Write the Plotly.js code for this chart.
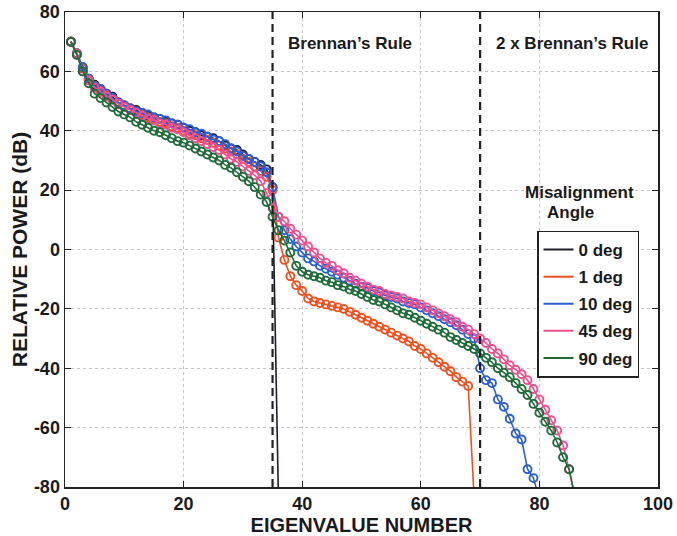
<!DOCTYPE html>
<html>
<head>
<meta charset="utf-8">
<script src="https://cdn.plot.ly/plotly-3.0.1.min.js"></script>
<style>html,body{margin:0;padding:0;background:#fff;}#chart{width:677px;height:536px;}</style>
</head>
<body>
<div id="chart"></div>
<script>
// Eigenvalue numbers (x positions)
const eigenNumber = [1,2,3,4,5,6,7,8,9,10,11,12,13,14,15,16,17,18,19,20,21,22,23,24,25,26,27,28,29,30,
  31,32,33,34,35,36,37,38,39,40,41,42,43,44,45,46,47,48,49,50,51,52,53,54,55,56,57,58,59,60,
  61,62,63,64,65,66,67,68,69,70,71,72,73,74,75,76,77,78,79,80,81,82,83,84,85,86];

const seriesNames = ['0 deg', '1 deg', '10 deg', '45 deg', '90 deg'];

// Relative power (dB) for each misalignment angle
const power0deg = [70, 66, 61, 57.5, 55.5, 54, 52.5, 51.5, 49.5, 48.5, 47.5, 47, 46, 45, 44.5, 44, 43, 42.5, 42, 41,
  40, 39.5, 38.5, 38, 37.5, 36.5, 35, 34, 33.5, 32, 30.5, 29.5, 28.5, 27, 21, -85];

const power1deg = [70, 66, 61, 57, 55, 53.5, 52, 50.5, 49.5, 48.5, 47.5, 46.5, 45.5, 44.5, 44, 43, 42.5, 41.5, 41, 40,
  39, 38.5, 37.5, 37, 36, 35, 34, 33, 32, 30.5, 29.5, 28, 26.5, 24.5, 20,
  4, -3.5, -9, -12, -14, -16.5, -17.5, -18, -18.5, -19, -19.5, -20, -21, -22, -23,
  -24, -25, -26, -27, -28, -29, -30, -31, -32.5, -33.5, -35, -36.5, -38, -39.5, -41,
  -43, -44.5, -46, -84];

const power10deg = [70, 66, 61.5, 57.5, 55, 54, 52.5, 51, 49.5, 48.5, 47.5, 46.5, 46, 45.5, 44.5, 44, 43.5, 42.5, 42, 41,
  40.5, 39.5, 39, 38, 37, 36.5, 35.5, 34, 33, 31.5, 30.5, 29.5, 28, 26, 21,
  11, 6.5, 3.5, 1, -1, -3, -4, -5.5, -6.5, -7.5, -8.5, -9.5, -10.5, -11.5, -12.5,
  -13, -14, -14.5, -15.5, -16, -16.5, -17.5, -18, -18.5, -19.5, -20.5, -21.5, -22.5, -23.5, -24.5,
  -25.5, -27, -28.5, -30, -40, -44, -45, -50.5, -53, -57, -62, -64, -74, -77, -84];

const power45deg = [70, 66, 60, 57, 54.5, 53, 51.5, 50.5, 49, 48, 47, 46, 45, 44, 43.5, 42.5, 42, 41, 40.5, 39.5,
  38.5, 37.5, 36.5, 35.5, 34.5, 33.5, 32, 30.5, 29.5, 28, 26.5, 25, 23, 19, 14,
  11, 9.5, 7, 5, 3, 1, -1, -3, -4.5, -5.5, -7, -8, -9.5, -10.5, -11.5,
  -12.5, -13.5, -14, -15, -15.5, -16, -16.5, -17.5, -18, -18.5, -19.5, -20.5, -21.5, -22.5, -23.5,
  -24.5, -26, -27, -28.5, -30, -31.5, -33.5, -35, -37, -39, -40.5, -42, -44, -47, -50.5,
  -54, -57.5, -61, -66, -74, -84];

const power90deg = [70, 65.5, 60, 56, 52.5, 51, 49.5, 48, 46.5, 45.5, 44.5, 43, 42, 41, 40, 39.5, 38.5, 37.5, 36.5, 36,
  35, 34, 33, 32, 31, 30, 28.5, 27.5, 26, 24.5, 23, 21, 18.5, 16, 11,
  6.5, 3, -1, -5.5, -7.5, -8.5, -9, -9.5, -10.5, -11, -12, -12.5, -13.5, -14, -15,
  -16, -17, -17.5, -18.5, -19.5, -20.5, -21.5, -22, -23, -24, -25, -26, -27, -28, -29.5,
  -30.5, -31.5, -32.5, -33.5, -35, -36.5, -38, -40, -41.5, -43, -45, -47, -49, -52, -55,
  -58, -61, -65, -70, -74, -83];

const seriesValues = [power0deg, power1deg, power10deg, power45deg, power90deg];
const seriesColors = ['#1c1c2e', '#f2501e', '#2a5fd4', '#ee4f8e', '#1f6b3a'];

const xTicks = [0, 20, 40, 60, 80, 100];
const yTicks = [-80, -60, -40, -20, 0, 20, 40, 60, 80];
const ruleLines = [35, 70];

const FONT = 'Liberation Sans, Arial, Helvetica, sans-serif';
const INK = '#1a1a1a';

const traces = [];
seriesValues.forEach((vals, i) => {
  traces.push({
    x: eigenNumber.slice(0, vals.length),
    y: vals,
    type: 'scatter',
    mode: 'lines+markers',
    line: {color: seriesColors[i], width: 1.6},
    marker: {symbol: 'circle-open', size: 8, color: seriesColors[i], line: {width: 1.9, color: seriesColors[i]}},
    showlegend: false,
    hoverinfo: 'skip'
  });
});
// legend entries (lines only)
seriesNames.forEach((name, i) => {
  traces.push({
    x: [null], y: [null], type: 'scatter', mode: 'lines', name: name,
    legendgroup: 'g' + i,
    line: {color: seriesColors[i], width: 2}
  });
});

const shapes = ruleLines.map(v => ({
  type: 'line', xref: 'x', yref: 'paper', x0: v, x1: v, y0: 0, y1: 1,
  line: {color: '#222', width: 2.2, dash: '8px,5px'}
}));

const layout = {
  width: 677, height: 536,
  margin: {l: 65, r: 19, t: 12, b: 49},
  paper_bgcolor: '#fff', plot_bgcolor: '#fff',
  font: {family: FONT, color: INK},
  showlegend: true,
  xaxis: {
    range: [0, 100], tickvals: xTicks, ticktext: xTicks.map(String),
    showline: true, linecolor: '#222', linewidth: 1.5, mirror: 'ticks',
    ticks: 'inside', ticklen: 6, tickcolor: '#222',
    showgrid: true, gridcolor: '#c4c4c4', griddash: 'dot', gridwidth: 1,
    zeroline: false,
    tickfont: {family: FONT, size: 18, weight: 'bold', color: INK},
    title: {text: 'EIGENVALUE NUMBER', font: {family: FONT, size: 20, weight: 'bold', color: INK}, standoff: 0}
  },
  yaxis: {
    range: [-80, 80], tickvals: yTicks, ticktext: yTicks.map(String),
    showline: true, linecolor: '#222', linewidth: 1.5, mirror: 'ticks',
    ticks: 'inside', ticklen: 6, tickcolor: '#222',
    showgrid: true, gridcolor: '#c4c4c4', griddash: 'dot', gridwidth: 1,
    zeroline: false,
    tickfont: {family: FONT, size: 18, weight: 'bold', color: INK},
    title: {text: 'RELATIVE POWER (dB)', font: {family: FONT, size: 21, weight: 'bold', color: INK}, standoff: 0}
  },
  legend: {
    x: 0.796, y: 0.54, xanchor: 'left', yanchor: 'top',
    bgcolor: '#fff', bordercolor: '#222', borderwidth: 1.5,
    font: {family: FONT, size: 17, weight: 'bold', color: INK},
    tracegroupgap: 2
  },
  shapes: shapes,
  annotations: [
    {x: 37.2, y: 69.5, xref: 'x', yref: 'y', xanchor: 'left', yanchor: 'middle', showarrow: false,
     text: 'Brennan’s Rule', font: {family: FONT, size: 17, weight: 'bold', color: INK}},
    {x: 72.3, y: 69.5, xref: 'x', yref: 'y', xanchor: 'left', yanchor: 'middle', showarrow: false,
     text: '2 x Brennan’s Rule', font: {family: FONT, size: 17, weight: 'bold', color: INK}},
    {x: 86.8, y: 19.3, xref: 'x', yref: 'y', xanchor: 'center', yanchor: 'middle', showarrow: false,
     text: 'Misalignment', font: {family: FONT, size: 17, weight: 'bold', color: INK}},
    {x: 85.2, y: 12.5, xref: 'x', yref: 'y', xanchor: 'center', yanchor: 'middle', showarrow: false,
     text: 'Angle', font: {family: FONT, size: 17, weight: 'bold', color: INK}}
  ]
};

Plotly.newPlot('chart', traces, layout, {staticPlot: true, displayModeBar: false});
</script>
</body>
</html>
